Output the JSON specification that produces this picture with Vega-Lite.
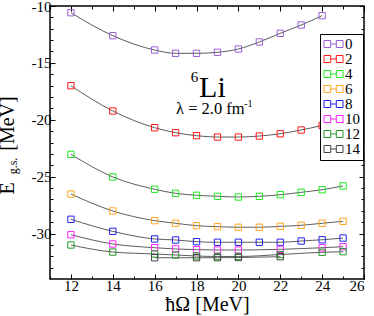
{
  "$schema": "https://vega.github.io/schema/vega-lite/v6.json",
  "width": 314,
  "height": 273,
  "autosize": {"type": "none"},
  "padding": {"left": 50, "top": 6, "right": 10, "bottom": 37},
  "background": "white",
  "config": {
    "view": {"stroke": "black", "strokeWidth": 1.5},
    "axis": {"domain": false, "grid": false, "labelFont": "Liberation Serif", "labelFontSize": 15, "labelFontWeight": "normal", "labelColor": "black", "tickColor": "black", "tickWidth": 1, "titleFont": "Liberation Serif", "titleFontSize": 20, "titleFontWeight": "normal", "titleColor": "black"},
    "legend": {"labelFont": "Liberation Serif"},
    "text": {"font": "Liberation Serif", "fontWeight": "normal", "color": "black"}
  },
  "data": {"values": [
    {"n": 0, "x": 12, "e": -10.59}, {"n": 0, "x": 14, "e": -12.61}, {"n": 0, "x": 16, "e": -13.87}, {"n": 0, "x": 17, "e": -14.16}, {"n": 0, "x": 18, "e": -14.16}, {"n": 0, "x": 19, "e": -14.07}, {"n": 0, "x": 20, "e": -13.78}, {"n": 0, "x": 21, "e": -13.16}, {"n": 0, "x": 22, "e": -12.40}, {"n": 0, "x": 23, "e": -11.67}, {"n": 0, "x": 24, "e": -10.85},
    {"n": 2, "x": 12, "e": -17.01}, {"n": 2, "x": 14, "e": -19.23}, {"n": 2, "x": 16, "e": -20.70}, {"n": 2, "x": 17, "e": -21.14}, {"n": 2, "x": 18, "e": -21.40}, {"n": 2, "x": 19, "e": -21.52}, {"n": 2, "x": 20, "e": -21.52}, {"n": 2, "x": 21, "e": -21.43}, {"n": 2, "x": 22, "e": -21.23}, {"n": 2, "x": 23, "e": -20.90}, {"n": 2, "x": 24, "e": -20.50}, {"n": 2, "x": 25, "e": -20.05},
    {"n": 4, "x": 12, "e": -23.04}, {"n": 4, "x": 14, "e": -25.03}, {"n": 4, "x": 16, "e": -26.11}, {"n": 4, "x": 17, "e": -26.47}, {"n": 4, "x": 18, "e": -26.64}, {"n": 4, "x": 19, "e": -26.73}, {"n": 4, "x": 20, "e": -26.79}, {"n": 4, "x": 21, "e": -26.73}, {"n": 4, "x": 22, "e": -26.59}, {"n": 4, "x": 23, "e": -26.38}, {"n": 4, "x": 24, "e": -26.15}, {"n": 4, "x": 25, "e": -25.82},
    {"n": 6, "x": 12, "e": -26.53}, {"n": 6, "x": 14, "e": -28.02}, {"n": 6, "x": 16, "e": -28.87}, {"n": 6, "x": 17, "e": -29.10}, {"n": 6, "x": 18, "e": -29.31}, {"n": 6, "x": 19, "e": -29.40}, {"n": 6, "x": 20, "e": -29.45}, {"n": 6, "x": 21, "e": -29.45}, {"n": 6, "x": 22, "e": -29.37}, {"n": 6, "x": 23, "e": -29.28}, {"n": 6, "x": 24, "e": -29.10}, {"n": 6, "x": 25, "e": -28.93},
    {"n": 8, "x": 12, "e": -28.75}, {"n": 8, "x": 14, "e": -29.81}, {"n": 8, "x": 16, "e": -30.48}, {"n": 8, "x": 17, "e": -30.57}, {"n": 8, "x": 18, "e": -30.72}, {"n": 8, "x": 19, "e": -30.77}, {"n": 8, "x": 20, "e": -30.77}, {"n": 8, "x": 21, "e": -30.77}, {"n": 8, "x": 22, "e": -30.77}, {"n": 8, "x": 23, "e": -30.66}, {"n": 8, "x": 24, "e": -30.55}, {"n": 8, "x": 25, "e": -30.40},
    {"n": 10, "x": 12, "e": -30.11}, {"n": 10, "x": 14, "e": -30.92}, {"n": 10, "x": 16, "e": -31.25}, {"n": 10, "x": 17, "e": -31.36}, {"n": 10, "x": 18, "e": -31.42}, {"n": 10, "x": 19, "e": -31.45}, {"n": 10, "x": 20, "e": -31.45}, {"n": 10, "x": 22, "e": -31.39}, {"n": 10, "x": 24, "e": -31.25}, {"n": 10, "x": 25, "e": -31.16},
    {"n": 12, "x": 12, "e": -31.01}, {"n": 12, "x": 14, "e": -31.63}, {"n": 12, "x": 16, "e": -31.80}, {"n": 12, "x": 17, "e": -31.89}, {"n": 12, "x": 18, "e": -31.98}, {"n": 12, "x": 19, "e": -32.02}, {"n": 12, "x": 20, "e": -32.02}, {"n": 12, "x": 22, "e": -31.85}, {"n": 12, "x": 24, "e": -31.65}, {"n": 12, "x": 25, "e": -31.60},
    {"n": 14, "x": 16, "e": -32.13}, {"n": 14, "x": 18, "e": -32.13}, {"n": 14, "x": 19, "e": -32.13}, {"n": 14, "x": 20, "e": -32.11}, {"n": 14, "x": 22, "e": -32.04}
  ]},
  "layer": [
    {
      "mark": {"type": "line", "color": "#333333", "strokeWidth": 0.8, "interpolate": "monotone"},
      "encoding": {
        "x": {"field": "x", "type": "quantitative", "scale": {"domain": [11, 26], "nice": false, "zero": false},
          "axis": {"orient": "bottom", "values": [12, 14, 16, 18, 20, 22, 24, 26], "tickSize": -5, "labelPadding": 4, "labelExpr": "'' + datum.value", "title": "ħΩ [MeV]", "titlePadding": 1}},
        "y": {"field": "e", "type": "quantitative", "scale": {"domain": [-34, -10], "nice": false, "zero": false},
          "axis": {"orient": "left", "values": [-10, -15, -20, -25, -30], "tickSize": -5, "labelPadding": 4, "labelExpr": "'' + datum.value", "title": null}},
        "detail": {"field": "n"}
      }
    },
    {
      "mark": {"type": "point", "shape": "square", "filled": false, "size": 40, "strokeWidth": 1, "opacity": 1},
      "encoding": {
        "x": {"field": "x", "type": "quantitative", "axis": {"orient": "top", "values": [12, 14, 16, 18, 20, 22, 24, 26], "tickSize": -5, "labels": false, "title": null}},
        "y": {"field": "e", "type": "quantitative", "axis": {"orient": "right", "values": [-10, -15, -20, -25, -30], "tickSize": -5, "labels": false, "title": null}},
        "color": {"field": "n", "type": "ordinal",
          "scale": {"domain": [0, 2, 4, 6, 8, 10, 12, 14], "range": ["#9a5fd6", "#ff1a1a", "#1ee81e", "#ffa520", "#2222ee", "#ff22ff", "#259925", "#444444"]},
          "legend": {"orient": "none", "legendX": 270, "legendY": 28, "title": null, "fillColor": "white", "strokeColor": "black", "padding": 3,
            "symbolType": "M-1.36,-0.5H-0.4V0.5H-1.36Z M0.4,-0.5H1.36V0.5H0.4Z M-0.4,0H0.4", "symbolSize": 196, "symbolStrokeWidth": 1, "symbolFillColor": "transparent", "symbolOffset": 3,
            "labelFont": "Liberation Serif", "labelFontSize": 15, "labelColor": "black", "labelOffset": 4, "rowPadding": -1, "clipHeight": 14, "zindex": 2}}
      }
    },
    {
      "mark": {"type": "point", "opacity": 0},
      "encoding": {
        "x": {"field": "x", "type": "quantitative", "axis": {"orient": "bottom", "values": [11, 13, 15, 17, 19, 21, 23, 25], "tickSize": -3, "labels": false, "title": null}},
        "y": {"field": "e", "type": "quantitative", "axis": {"orient": "left", "values": [-33, -32, -31, -29, -28, -27, -26, -24, -23, -22, -21, -19, -18, -17, -16, -14, -13, -12, -11], "tickSize": -3, "labels": false, "title": null}}
      }
    },
    {
      "mark": {"type": "point", "opacity": 0},
      "encoding": {
        "x": {"field": "x", "type": "quantitative", "axis": {"orient": "top", "values": [11, 13, 15, 17, 19, 21, 23, 25], "tickSize": -3, "labels": false, "title": null}},
        "y": {"field": "e", "type": "quantitative", "axis": {"orient": "right", "values": [-33, -32, -31, -29, -28, -27, -26, -24, -23, -22, -21, -19, -18, -17, -16, -14, -13, -12, -11], "tickSize": -3, "labels": false, "title": null}}
      }
    },
    {
      "data": {"values": [{}]},
      "mark": {"type": "text", "text": "Li", "fontSize": 30, "align": "center", "baseline": "alphabetic"},
      "encoding": {"x": {"datum": 18.76, "type": "quantitative", "axis": null}, "y": {"datum": -18.0, "type": "quantitative", "axis": null}}
    },
    {
      "data": {"values": [{}]},
      "mark": {"type": "text", "text": "6", "fontSize": 15, "align": "center", "baseline": "alphabetic"},
      "encoding": {"x": {"datum": 17.9, "type": "quantitative", "axis": null}, "y": {"datum": -16.68, "type": "quantitative", "axis": null}}
    },
    {
      "data": {"values": [{}]},
      "mark": {"type": "text", "text": "λ = 2.0 fm", "fontSize": 16.5, "align": "left", "baseline": "alphabetic"},
      "encoding": {"x": {"datum": 17.02, "type": "quantitative", "axis": null}, "y": {"datum": -19.49, "type": "quantitative", "axis": null}}
    },
    {
      "data": {"values": [{}]},
      "mark": {"type": "text", "text": "-1", "fontSize": 10, "align": "left", "baseline": "alphabetic"},
      "encoding": {"x": {"datum": 20.28, "type": "quantitative", "axis": null}, "y": {"datum": -18.88, "type": "quantitative", "axis": null}}
    },
    {
      "data": {"values": [{}]},
      "mark": {"type": "text", "text": "E", "fontSize": 20, "angle": 270, "align": "center", "baseline": "alphabetic"},
      "encoding": {"x": {"datum": 9.26, "type": "quantitative", "axis": null}, "y": {"datum": -26.04, "type": "quantitative", "axis": null}}
    },
    {
      "data": {"values": [{}]},
      "mark": {"type": "text", "text": "g.s.", "fontSize": 12, "angle": 270, "align": "center", "baseline": "alphabetic"},
      "encoding": {"x": {"datum": 9.42, "type": "quantitative", "axis": null}, "y": {"datum": -24.07, "type": "quantitative", "axis": null}}
    },
    {
      "data": {"values": [{}]},
      "mark": {"type": "text", "text": "[MeV]", "fontSize": 20, "angle": 270, "align": "center", "baseline": "alphabetic"},
      "encoding": {"x": {"datum": 9.26, "type": "quantitative", "axis": null}, "y": {"datum": -20.33, "type": "quantitative", "axis": null}}
    }
  ],
  "resolve": {"axis": {"x": "independent", "y": "independent"}}
}
